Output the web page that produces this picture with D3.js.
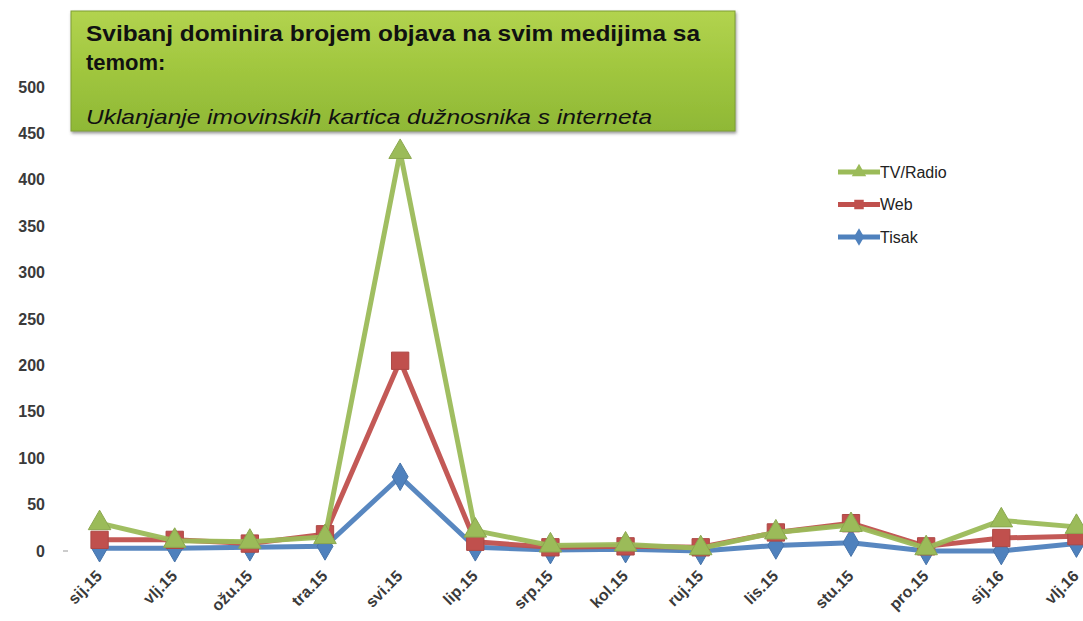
<!DOCTYPE html>
<html>
<head>
<meta charset="utf-8">
<script src="https://cdn.jsdelivr.net/npm/d3@7"></script>
<style>
  body { margin: 0; background: #fff; }
  svg { display: block; font-family: "Liberation Sans", Arial, sans-serif; }
</style>
</head>
<body>
<script>
var WIDTH = 1083;
var HEIGHT = 621;

// data
var months = ["sij.15", "vlj.15", "ožu.15", "tra.15", "svi.15", "lip.15", "srp.15",
              "kol.15", "ruj.15", "lis.15", "stu.15", "pro.15", "sij.16", "vlj.16"];
var tisak   = [3, 3, 4, 5, 80, 4, 1, 2, 0, 6, 9, 0, 0, 8];
var web     = [12, 12, 8, 18, 205, 10, 4, 5, 4, 20, 30, 5, 14, 16];
var tvRadio = [30, 11, 10, 15, 430, 22, 6, 7, 3, 20, 28, 3, 33, 26];
var yTicks  = [0, 50, 100, 150, 200, 250, 300, 350, 400, 450, 500];

var titleLines = ["Svibanj dominira brojem objava na svim medijima sa", "temom:"];
var subtitle = "Uklanjanje imovinskih kartica dužnosnika s interneta";

var series = [
  { name: "Tisak", values: tisak, color: "#4f81bd", marker: d3.symbolDiamond },
  { name: "Web", values: web, color: "#c0504d", marker: d3.symbolSquare },
  { name: "TV/Radio", values: tvRadio, color: "#9bbb59", marker: d3.symbolTriangle }
];

var svg = d3.select("body").append("svg")
    .attr("width", WIDTH)
    .attr("height", HEIGHT);

var x = d3.scalePoint()
    .domain(months)
    .range([62, 1114])
    .padding(0.5);

var y = d3.scaleLinear()
    .domain([0, 500])
    .range([551, 87]);

// y axis (labels only)
var yAxis = svg.append("g")
    .attr("transform", "translate(49,0)")
    .call(d3.axisLeft(y).tickValues(yTicks).tickSize(0).tickPadding(4));
yAxis.select(".domain").remove();
yAxis.selectAll("text")
    .attr("font-size", 16)
    .attr("font-weight", "bold")
    .attr("fill", "#3a3a3a")
    .attr("font-family", "Liberation Sans, Arial, sans-serif");

svg.append("line")
    .attr("x1", 63).attr("x2", 68)
    .attr("y1", y(0)).attr("y2", y(0))
    .attr("stroke", "#bbb").attr("stroke-width", 1.5);

// x axis labels rotated
var xAxis = svg.append("g")
    .attr("transform", "translate(0," + (y(0) + 14) + ")")
    .call(d3.axisBottom(x).tickSize(0).tickPadding(0));
xAxis.select(".domain").remove();
xAxis.selectAll("text")
    .attr("font-size", 16)
    .attr("font-weight", "bold")
    .attr("fill", "#3a3a3a")
    .attr("font-family", "Liberation Sans, Arial, sans-serif")
    .attr("text-anchor", "end")
    .attr("dy", "0.35em")
    .attr("transform", "translate(-1,8) rotate(-45)");

// lines and markers
var line = d3.line()
    .x(function(d, i) { return x(months[i]); })
    .y(function(d) { return y(d); });

series.forEach(function(s) {
  svg.append("path")
      .datum(s.values)
      .attr("d", line)
      .attr("fill", "none")
      .attr("stroke", s.color)
      .attr("stroke-width", 5)
      .attr("stroke-linejoin", "round")
      .attr("opacity", 0.95);

  svg.selectAll(null)
      .data(s.values)
      .enter().append("path")
      .attr("d", d3.symbol().type(s.marker).size(s.marker === d3.symbolSquare ? 300 : 220))
      .attr("transform", function(d, i) { return "translate(" + x(months[i]) + "," + y(d) + ")"; })
      .attr("fill", s.color)
      .attr("stroke", d3.color(s.color).darker(0.3))
      .attr("stroke-width", 1);
});

// legend
var legend = svg.append("g").attr("transform", "translate(838,172)");
series.slice().reverse().forEach(function(s, i) {
  var g = legend.append("g").attr("transform", "translate(0," + (i * 32.5) + ")");
  g.append("line")
      .attr("x1", 0).attr("x2", 42)
      .attr("stroke", s.color).attr("stroke-width", 5);
  g.append("path")
      .attr("transform", "translate(21,0)")
      .attr("d", d3.symbol().type(s.marker).size(90))
      .attr("fill", s.color);
  g.append("text")
      .attr("x", 42).attr("dy", "0.35em")
      .attr("font-size", 16)
      .attr("fill", "#222")
      .text(s.name);
});

// title box
var defs = svg.append("defs");
var grad = defs.append("linearGradient").attr("id", "boxGrad")
    .attr("x1", 0).attr("y1", 0).attr("x2", 0).attr("y2", 1);
grad.append("stop").attr("offset", "0%").attr("stop-color", "#b2d34f");
grad.append("stop").attr("offset", "50%").attr("stop-color", "#a0c63e");
grad.append("stop").attr("offset", "100%").attr("stop-color", "#8fb836");
var shadow = defs.append("filter").attr("id", "shadow")
    .attr("x", "-5%").attr("y", "-10%").attr("width", "115%").attr("height", "130%");
shadow.append("feDropShadow").attr("dx", 1).attr("dy", 2).attr("stdDeviation", 1.5)
    .attr("flood-color", "#555").attr("flood-opacity", 0.6);

var box = svg.append("g").attr("transform", "translate(71,11)");
box.append("rect")
    .attr("width", 664).attr("height", 120)
    .attr("fill", "url(#boxGrad)")
    .attr("stroke", "#7f9e35").attr("stroke-width", 1)
    .attr("filter", "url(#shadow)");
box.selectAll("text.title")
    .data(titleLines)
    .enter().append("text")
    .attr("class", "title")
    .attr("x", 15)
    .attr("y", function(d, i) { return 30 + i * 29; })
    .attr("font-size", 22)
    .attr("font-weight", "bold")
    .attr("fill", "#111")
    .text(function(d) { return d; })
    .each(function(d, i) {
      if (i === 0) d3.select(this).attr("textLength", 614).attr("lengthAdjust", "spacingAndGlyphs");
    });
box.append("text")
    .attr("x", 15).attr("y", 113)
    .attr("font-size", 21)
    .attr("font-style", "italic")
    .attr("fill", "#111")
    .attr("textLength", 566)
    .attr("lengthAdjust", "spacingAndGlyphs")
    .text(subtitle);
</script>
</body>
</html>
